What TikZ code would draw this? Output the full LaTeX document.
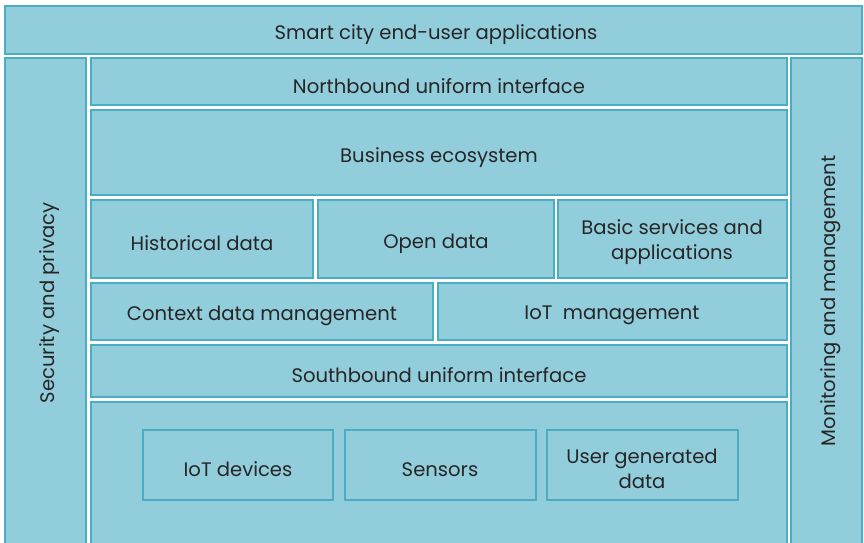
\documentclass[tikz,border=0pt]{standalone}
\usepackage{fontspec}
\setmainfont{Poppins}
\definecolor{boxfill}{HTML}{92CDDC}
\definecolor{boxline}{HTML}{4BACC6}
\begin{document}
\begin{tikzpicture}[x=1pt,y=-1pt,
  blk/.style={draw=boxline,line width=1.1pt,fill=boxfill,inner sep=0pt},
  lbl/.style={font=\fontsize{19.6}{25}\selectfont,text=black!85,align=center,yshift=-3.5pt},
  vlbl/.style={font=\fontsize{19.6}{25}\selectfont,text=black!85,rotate=90}]
\useasboundingbox (0,0) rectangle (864,543);
\fill[white] (0,0) rectangle (864,543);
% boxes
\draw[blk] (5,6) rectangle (862,54);
\node[lbl] (top) at (436,31) {Smart city end-user applications};
\draw[blk] (5,58) rectangle (86,548);
\node[vlbl] (sec) at (50,303) {Security and privacy};
\draw[blk] (791,58) rectangle (862,548);
\node[vlbl] (mon) at (831,301) {Monitoring and management};
\draw[blk] (91,58) rectangle (787,105);
\node[lbl] (nb) at (439,83) {Northbound uniform interface};
\draw[blk] (91,110) rectangle (787,195);
\node[lbl] (be) at (439,154) {Business ecosystem};
\draw[blk] (91,200) rectangle (313,278);
\node[lbl] (hd) at (202,240) {Historical data};
\draw[blk] (318,200) rectangle (554,278);
\node[lbl] (od) at (436,240) {Open data};
\draw[blk] (558,200) rectangle (787,278);
\node[lbl] (bs) at (672,239) {Basic services and\\applications};
\draw[blk] (91,283) rectangle (433,340);
\node[lbl] (cd) at (262,312) {Context data management};
\draw[blk] (438,283) rectangle (787,340);
\node[lbl] (im) at (612,312) {IoT\ \ management};
\draw[blk] (91,345) rectangle (787,397);
\node[lbl] (sb) at (439,372) {Southbound uniform interface};
\draw[blk] (91,402) rectangle (787,548);
\draw[blk] (143,430) rectangle (333,500);
\node[lbl] (iot) at (238,466) {IoT devices};
\draw[blk] (345,430) rectangle (536,500);
\node[lbl] (sen) at (440,466) {Sensors};
\draw[blk] (547,430) rectangle (738,500);
\node[lbl] (ug) at (642,465) {User generated\\data};
\end{tikzpicture}
\end{document}
